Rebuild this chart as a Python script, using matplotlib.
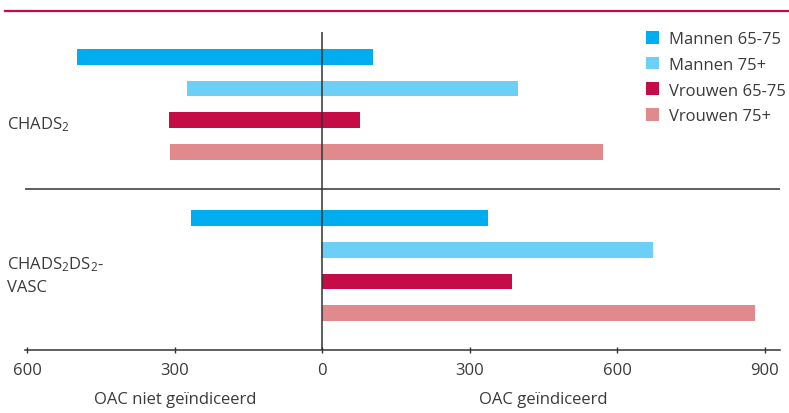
import matplotlib.pyplot as plt
from matplotlib.lines import Line2D
from matplotlib.patches import Patch

plt.rcParams['font.family'] = ['Open Sans', 'DejaVu Sans']
plt.rcParams['mathtext.default'] = 'regular'

# --- data ---
scores = ['CHADS2', 'CHADS2DS2-VASC']
series = ['Mannen 65-75', 'Mannen 75+', 'Vrouwen 65-75', 'Vrouwen 75+']
colors = ['#00AEEF', '#6DCFF6', '#C60C46', '#E18A8D']

# OAC niet geïndiceerd (left of zero), per score, per series
niet_geindiceerd = [
    [498, 276, 311, 309],
    [266, 3, 0, 0],
]
# OAC geïndiceerd (right of zero)
geindiceerd = [
    [104, 398, 76, 571],
    [337, 673, 385, 880],
]

xticks = [-600, -300, 0, 300, 600, 900]
text_color = '#3a3a3a'

W, H = 789, 414
fig = plt.figure(figsize=(W / 100, H / 100), dpi=100)

# axes run from the left end of the axis line (px 25) to its right end (px 780), y from px 33 to 351
ax = fig.add_axes([25.3 / W, 1 - 351 / H, (780 - 25.3) / W, (351 - 33) / H])

group_gap = 2.1
positions = []
for g in range(len(scores)):
    for s in range(len(series)):
        y = g * (len(series) - 1 + group_gap) + s
        positions.append(y)
        left = niet_geindiceerd[g][s]
        right = geindiceerd[g][s]
        ax.barh(y, left + right, left=-left, height=0.5, color=colors[s], zorder=2)

ax.set_xlim(-604, 931)
ax.set_ylim(positions[-1] + 1.17, positions[0] - 0.79)

# zero line and separator between the two scores
ax.axvline(0, color='#333333', lw=1.1, zorder=3)
ax.axhline(positions[3] + 1.17, color='#333333', lw=1.1, zorder=3)

for side in ['top', 'right', 'left']:
    ax.spines[side].set_visible(False)
ax.spines['bottom'].set_color('#333333')
ax.spines['bottom'].set_linewidth(1.1)
ax.set_yticks([])
ax.set_xticks(xticks)
ax.set_xticklabels([str(abs(t)) for t in xticks], fontsize=12, color=text_color)
ax.tick_params(axis='x', direction='inout', length=5, width=1, color='#333333', pad=6)

# axis captions under each half
ax.text(-300, -0.155, 'OAC niet geïndiceerd', transform=ax.get_xaxis_transform(),
        ha='center', va='center', fontsize=12, color=text_color)
ax.text(450, -0.155, 'OAC geïndiceerd', transform=ax.get_xaxis_transform(),
        ha='center', va='center', fontsize=12, color=text_color)

# score labels on the left
fig.text(7 / W, 1 - 125 / H, 'CHADS$_2$', ha='left', va='center', fontsize=12, color=text_color)
fig.text(7 / W, 1 - 265 / H, 'CHADS$_2$DS$_2$-', ha='left', va='center', fontsize=12, color=text_color)
fig.text(7 / W, 1 - 288 / H, 'VASC', ha='left', va='center', fontsize=12, color=text_color)

# magenta rule along the top
fig.add_artist(Line2D([4.7 / W, 1], [1 - 11.7 / H] * 2, transform=fig.transFigure,
                      color='#C60C46', lw=1.6))

handles = [Patch(facecolor=c, edgecolor='none') for c in colors]
leg = fig.legend(handles, series, loc='upper left', bbox_to_anchor=(646 / W, 1 - 32 / H),
                 frameon=False, fontsize=12, handlelength=0.8, handleheight=0.8,
                 handletextpad=0.6, labelspacing=0.57, borderpad=0, borderaxespad=0)
for t in leg.get_texts():
    t.set_color(text_color)

fig.savefig('out.png', dpi=100)
